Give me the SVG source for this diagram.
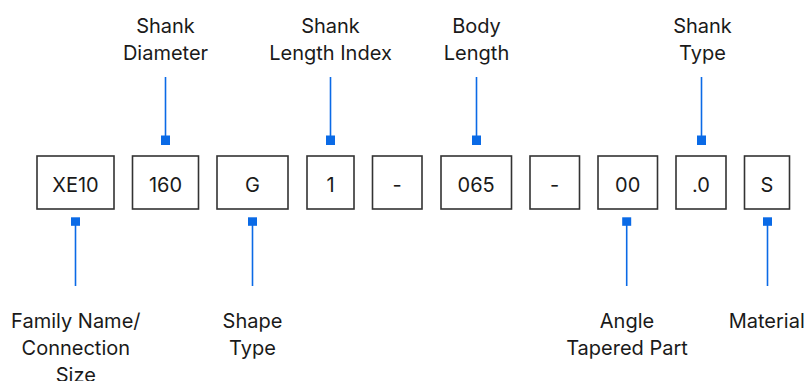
<svg xmlns="http://www.w3.org/2000/svg" width="806" height="381" viewBox="0 0 806 381">
<style>
.box{fill:#fff;stroke:#333;stroke-width:1.6}
.t{font-family:Inter,"Liberation Sans",sans-serif;font-size:20px;fill:#1a1a1a;text-anchor:middle}
.ln{stroke:#0a6ae6;stroke-width:1.6;fill:none}
.sq{fill:#0a6ae6}
</style>
<rect width="806" height="381" fill="#fff"/>
<g id="connectors">
<line class="ln" x1="165.5" y1="77" x2="165.5" y2="140"/><rect class="sq" x="161" y="135.5" width="9" height="9.5"/>
<line class="ln" x1="330.5" y1="77" x2="330.5" y2="140"/><rect class="sq" x="326" y="135.5" width="9" height="9.5"/>
<line class="ln" x1="476.5" y1="77" x2="476.5" y2="140"/><rect class="sq" x="472" y="135.5" width="9" height="9.5"/>
<line class="ln" x1="701.5" y1="77" x2="701.5" y2="140"/><rect class="sq" x="697" y="135.5" width="9" height="9.5"/>
<line class="ln" x1="75.5" y1="222" x2="75.5" y2="286"/><rect class="sq" x="71" y="217.3" width="9" height="8.5"/>
<line class="ln" x1="252.5" y1="222" x2="252.5" y2="286"/><rect class="sq" x="248" y="217.3" width="9" height="8.5"/>
<line class="ln" x1="626.7" y1="222" x2="626.7" y2="286"/><rect class="sq" x="622.2" y="217.3" width="9" height="8.5"/>
<line class="ln" x1="767.5" y1="222" x2="767.5" y2="286"/><rect class="sq" x="763" y="217.3" width="9" height="8.5"/>
</g>
<g id="n-xe10"><rect class="box" x="37" y="156" width="77" height="53"/><text class="t" x="75.5" y="191.5">XE10</text></g>
<g id="n-160"><rect class="box" x="132.5" y="156" width="66" height="53"/><text class="t" x="165.5" y="191.5">160</text></g>
<g id="n-g"><rect class="box" x="217" y="156" width="71" height="53"/><text class="t" x="252.5" y="191.5">G</text></g>
<g id="n-1"><rect class="box" x="307" y="156" width="47" height="53"/><text class="t" x="330.5" y="191.5">1</text></g>
<g id="n-dash1"><rect class="box" x="372.5" y="156" width="49.5" height="53"/><text class="t" x="397.2" y="191.5">-</text></g>
<g id="n-065"><rect class="box" x="441" y="156" width="70.5" height="53"/><text class="t" x="476.2" y="191.5">065</text></g>
<g id="n-dash2"><rect class="box" x="530" y="156" width="49.5" height="53"/><text class="t" x="554.7" y="191.5">-</text></g>
<g id="n-00"><rect class="box" x="598" y="156" width="59.5" height="53"/><text class="t" x="627.7" y="191.5">00</text></g>
<g id="n-p0"><rect class="box" x="676" y="156" width="50" height="53"/><text class="t" x="701" y="191.5">.0</text></g>
<g id="n-s"><rect class="box" x="744.5" y="156" width="45" height="53"/><text class="t" x="767" y="191.5">S</text></g>
<g id="l-shank-diameter"><text class="t" x="165.5" y="32.5">Shank</text><text class="t" x="165.5" y="59.5">Diameter</text></g>
<g id="l-shank-length"><text class="t" x="330.5" y="32.5">Shank</text><text class="t" x="330.5" y="59.5">Length Index</text></g>
<g id="l-body-length"><text class="t" x="476.5" y="32.5">Body</text><text class="t" x="476.5" y="59.5">Length</text></g>
<g id="l-shank-type"><text class="t" x="702.5" y="32.5">Shank</text><text class="t" x="702.5" y="59.5">Type</text></g>
<g id="l-family"><text class="t" x="75.8" y="328.3">Family Name/</text><text class="t" x="75.8" y="355">Connection</text><text class="t" x="75.8" y="381.5">Size</text></g>
<g id="l-shape"><text class="t" x="252.5" y="328.3">Shape</text><text class="t" x="252.5" y="355">Type</text></g>
<g id="l-angle"><text class="t" x="627" y="328.3">Angle</text><text class="t" x="627" y="355">Tapered Part</text></g>
<g id="l-material"><text class="t" x="766.7" y="328.3">Material</text></g>
</svg>
